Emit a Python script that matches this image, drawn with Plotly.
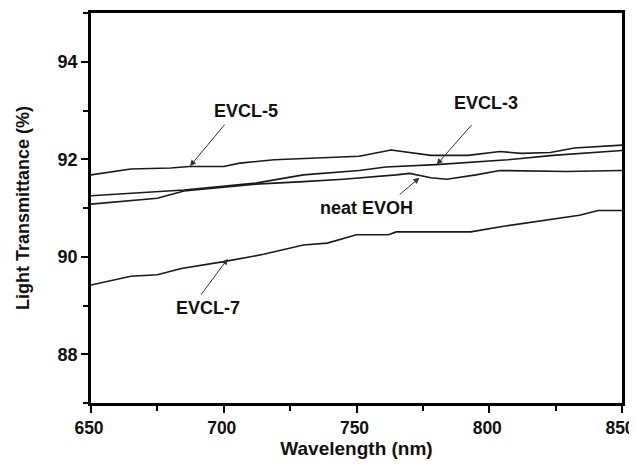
import plotly.graph_objects as go

# Wavelength (nm) / Light transmittance (%)
evcl5_x = [650, 665, 680, 687, 700, 706, 719, 736, 751, 763, 778, 792, 804, 812, 823, 832, 850]
evcl5_y = [91.68, 91.80, 91.82, 91.85, 91.85, 91.92, 91.99, 92.02, 92.06, 92.19, 92.08, 92.08, 92.16, 92.12, 92.14, 92.23, 92.29]

evcl3_x = [650, 685, 712, 730, 751, 761, 780, 794, 807, 824, 850]
evcl3_y = [91.25, 91.37, 91.51, 91.68, 91.77, 91.84, 91.89, 91.94, 91.99, 92.08, 92.18]

neat_x = [650, 675, 685, 712, 730, 745, 765, 770, 778, 784, 795, 804, 829, 850]
neat_y = [91.08, 91.20, 91.35, 91.49, 91.54, 91.59, 91.68, 91.71, 91.62, 91.59, 91.68, 91.77, 91.75, 91.77]

evcl7_x = [650, 665, 675, 684, 700, 715, 730, 739, 750, 762, 765, 793, 806, 834, 841, 850]
evcl7_y = [89.42, 89.60, 89.63, 89.76, 89.90, 90.05, 90.24, 90.28, 90.45, 90.45, 90.51, 90.51, 90.63, 90.85, 90.95, 90.95]

# Labels: text, text position, arrow head, arrow tail
label_text = ["EVCL-5", "EVCL-3", "neat EVOH", "EVCL-7"]
label_x = [708.2, 798.8, 753.6, 693.9]
label_y = [93.0, 93.15, 91.0, 88.94]
head_x = [687.3, 780.2, 773.7, 701.5]
head_y = [91.86, 91.89, 91.62, 89.96]
tail_x = [700.8, 793.8, 765.7, 691.0]
tail_y = [92.74, 92.73, 91.25, 89.19]

FONT = "Arial, 'Liberation Sans', Helvetica, sans-serif"
LINE = "#1a1a1a"

fig = go.Figure()
for xs, ys, nm in [(evcl5_x, evcl5_y, "EVCL-5"), (evcl3_x, evcl3_y, "EVCL-3"),
                   (neat_x, neat_y, "neat EVOH"), (evcl7_x, evcl7_y, "EVCL-7")]:
    fig.add_trace(go.Scatter(x=xs, y=ys, mode="lines", name=nm,
                             line=dict(color=LINE, width=1.6), showlegend=False))

for t, lx, ly in zip(label_text, label_x, label_y):
    fig.add_annotation(x=lx, y=ly, xref="x", yref="y", text=t, showarrow=False,
                       font=dict(family=FONT, size=18, color="#111", weight="bold"))
for hx, hy, tx, ty in zip(head_x, head_y, tail_x, tail_y):
    fig.add_annotation(x=hx, y=hy, xref="x", yref="y", ax=tx, ay=ty, axref="x", ayref="y",
                       text="", showarrow=True, arrowhead=2, arrowsize=1.2, arrowwidth=1,
                       arrowcolor="#333")

axis_common = dict(
    showline=True, linecolor="black", linewidth=2.5, mirror=True,
    ticks="outside", ticklen=7, tickwidth=2, tickcolor="black",
    showgrid=False, zeroline=False, automargin=False, ticklabeloverflow="allow",
)

fig.update_xaxes(range=[650, 850], dtick=50, tick0=650, ticklabelshift=-2,
                 tickfont=dict(family=FONT, size=17.5, color="#111", weight="bold"),
                 minor=dict(ticks="outside", ticklen=5, tickwidth=2, tickcolor="black", dtick=25),
                 title=dict(text="Wavelength (nm)", standoff=5,
                            font=dict(family=FONT, size=19, color="#111", weight="bold")),
                 **axis_common)
fig.update_yaxes(range=[87, 95], dtick=2, tick0=88,
                 tickfont=dict(family=FONT, size=18, color="#111", weight="bold"),
                 minor=dict(ticks="outside", ticklen=5, tickwidth=2, tickcolor="black", dtick=1),
                 title=dict(text="Light Transmittance (%)", standoff=24,
                            font=dict(family=FONT, size=18, color="#111", weight="bold")),
                 **axis_common)

# page body adds an 8px offset, so the figure is sized to the rest of the window
fig.update_layout(width=629, height=460, margin=dict(l=83, r=15, t=5, b=65),
                  plot_bgcolor="white", paper_bgcolor="white")

fig.write_html("out.html")
